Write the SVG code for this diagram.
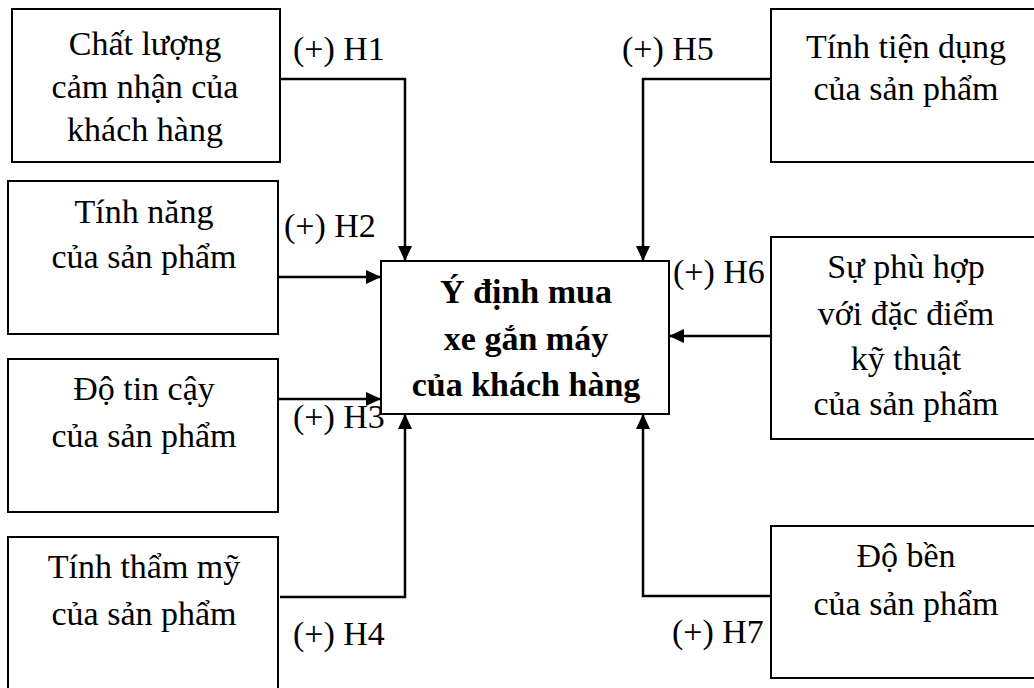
<svg xmlns="http://www.w3.org/2000/svg" width="1034" height="688" viewBox="0 0 1034 688">
  <style>
    .box { fill: #ffffff; stroke: #000000; stroke-width: 2; }
    .t { font-family: "Liberation Serif", "Times New Roman", serif; font-size: 34px; fill: #000000; text-anchor: middle; }
    .tb { font-family: "Liberation Serif", "Times New Roman", serif; font-size: 34px; font-weight: bold; fill: #000000; text-anchor: middle; }
    .lbl { font-family: "Liberation Serif", "Times New Roman", serif; font-size: 34px; fill: #000000; }
    .link { fill: none; stroke: #000000; stroke-width: 2.5; stroke-linejoin: miter; marker-end: url(#arrow); }
  </style>
  <defs>
    <marker id="arrow" markerUnits="userSpaceOnUse" markerWidth="16" markerHeight="14" refX="15" refY="7" orient="auto">
      <path d="M0,0 L15,7 L0,14 z" fill="#000000"/>
    </marker>
  </defs>
  <rect width="1034" height="688" fill="#ffffff"/>

  <!-- connectors -->
  <g id="connectors">
    <path class="link" d="M280,79 H405 V261"/>
    <path class="link" d="M278,277 H381"/>
    <path class="link" d="M278,399 H381"/>
    <path class="link" d="M280,597 H405 V414"/>
    <path class="link" d="M771,79 H643 V261"/>
    <path class="link" d="M771,336 H669"/>
    <path class="link" d="M771,596 H643 V414"/>
    <text class="lbl" x="293" y="60">(+) H1</text>
    <text class="lbl" x="284" y="237">(+) H2</text>
    <text class="lbl" x="293" y="428">(+) H3</text>
    <text class="lbl" x="293" y="645">(+) H4</text>
    <text class="lbl" x="622" y="60">(+) H5</text>
    <text class="lbl" x="673" y="283">(+) H6</text>
    <text class="lbl" x="672" y="643">(+) H7</text>
  </g>

  <!-- left column -->
  <g id="chat-luong">
    <rect class="box" x="12" y="9" width="268" height="153"/>
    <text class="t" x="145" y="55">Chất lượng</text>
    <text class="t" x="145" y="98">cảm nhận của</text>
    <text class="t" x="145" y="141">khách hàng</text>
  </g>
  <g id="tinh-nang">
    <rect class="box" x="8" y="181" width="270" height="153"/>
    <text class="t" x="144" y="223">Tính năng</text>
    <text class="t" x="144" y="268">của sản phẩm</text>
  </g>
  <g id="do-tin-cay">
    <rect class="box" x="8" y="359" width="270" height="153"/>
    <text class="t" x="144" y="400">Độ tin cậy</text>
    <text class="t" x="144" y="447">của sản phẩm</text>
  </g>
  <g id="tham-my">
    <rect class="box" x="8" y="537" width="270" height="160"/>
    <text class="t" x="144" y="578">Tính thẩm mỹ</text>
    <text class="t" x="144" y="625">của sản phẩm</text>
  </g>

  <!-- central node -->
  <g id="y-dinh-mua">
    <rect class="box" x="381" y="261" width="288" height="153"/>
    <text class="tb" x="526" y="303">Ý định mua</text>
    <text class="tb" x="526" y="350">xe gắn máy</text>
    <text class="tb" x="526" y="396">của khách hàng</text>
  </g>

  <!-- right column -->
  <g id="tien-dung">
    <rect class="box" x="771" y="9" width="270" height="153"/>
    <text class="t" x="906" y="58">Tính tiện dụng</text>
    <text class="t" x="906" y="100">của sản phẩm</text>
  </g>
  <g id="phu-hop">
    <rect class="box" x="771" y="237" width="270" height="202"/>
    <text class="t" x="906" y="278">Sự phù hợp</text>
    <text class="t" x="906" y="325">với đặc điểm</text>
    <text class="t" x="906" y="370">kỹ thuật</text>
    <text class="t" x="906" y="415">của sản phẩm</text>
  </g>
  <g id="do-ben">
    <rect class="box" x="771" y="526" width="270" height="152"/>
    <text class="t" x="906" y="567">Độ bền</text>
    <text class="t" x="906" y="615">của sản phẩm</text>
  </g>
</svg>
